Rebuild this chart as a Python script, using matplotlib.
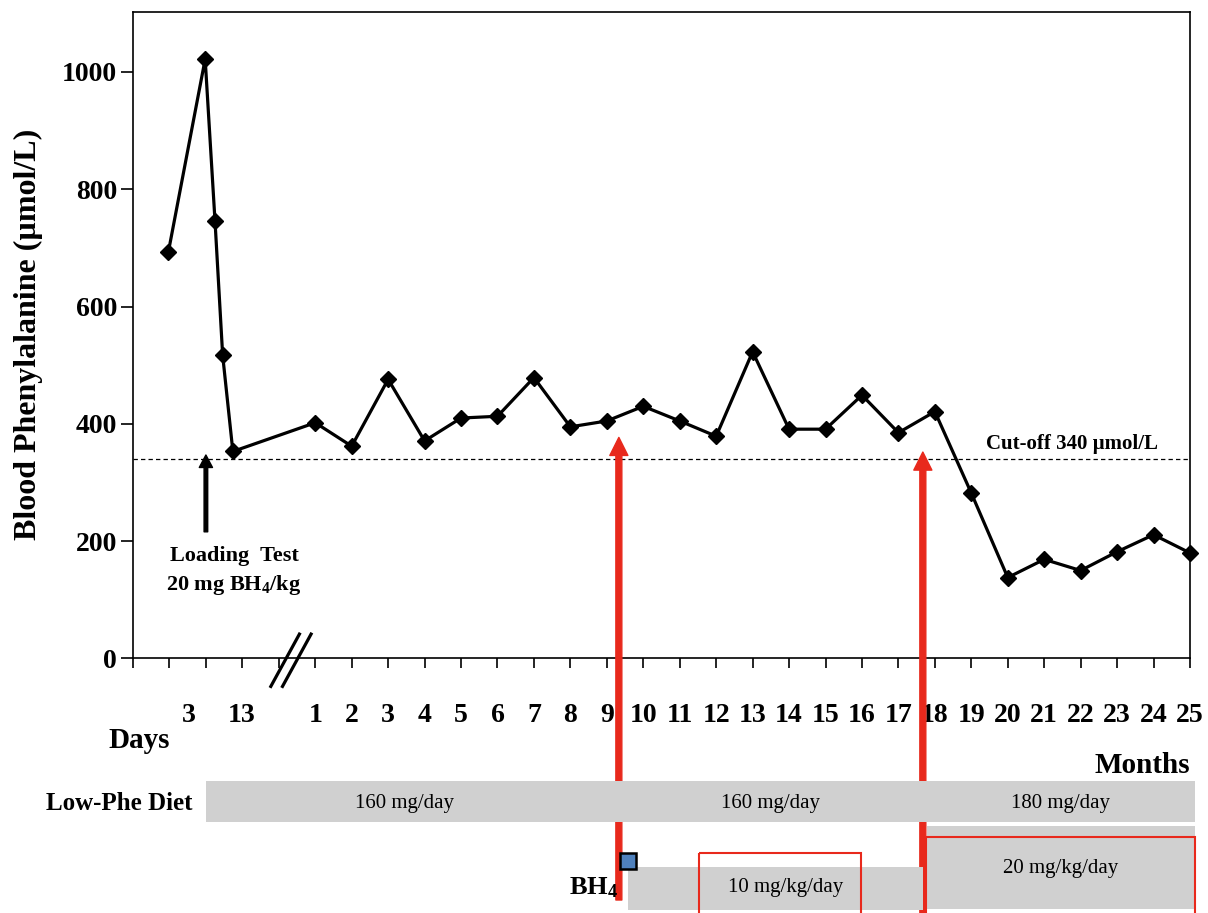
import matplotlib
matplotlib.use("Agg")
import matplotlib.pyplot as plt
from matplotlib.patches import Rectangle
from matplotlib.transforms import blended_transform_factory

plt.rcParams["font.family"] = ["Liberation Serif", "DejaVu Serif"]
plt.rcParams["mathtext.fontset"] = "custom"
plt.rcParams["mathtext.rm"] = "Liberation Serif:bold"
plt.rcParams["mathtext.bf"] = "Liberation Serif:bold"
plt.rcParams["mathtext.it"] = "Liberation Serif:bold"

# ---- data -------------------------------------------------------------
# time axis: positions -4..0 hold the first days, 1..25 are months
day_pos = [-3.03, -2.02, -1.75, -1.54, -1.26]
day_phe = [693, 1022, 746, 517, 353]
day_labels = ["3", "13"]
day_label_pos = [-2.46, -1.03]

months = list(range(1, 26))
month_phe = [402, 362, 476, 371, 410, 413, 479, 395, 405, 430, 405, 379, 523,
             391, 391, 449, 385, 421, 282, 138, 169, 150, 182, 211, 180]

cutoff = 340
loading_test_pos = -2.0

# treatment phases (start, end, label)
diet_phases = [(-2.0, 9.33, "160 mg/day"),
               (9.33, 17.70, "160 mg/day"),
               (17.70, 25.15, "180 mg/day")]
diet_label_pos = [3.44, 13.5, 21.46]
bh4_phases = [(9.57, 17.67, "10 mg/kg/day"),
              (17.78, 25.15, "20 mg/kg/day")]
bh4_label_pos = [13.9, 21.46]
bh4_highlight = [(11.52, 15.97), (17.75, 25.15)]
bh4_start = 9.57
arrow_times = [9.33, 17.67]
arrow_tips = [377, 352]

# ---- styling ----------------------------------------------------------
W, H = 1208, 913
RED = "#e8291c"
GRAY = "#d0d0d0"
BOLD = dict(fontweight="bold")

fig = plt.figure(figsize=(W / 100, H / 100), dpi=100)
x0, x1, ytop, ybot = 133, 1190, 12, 658.5
ax = fig.add_axes([x0 / W, 1 - ybot / H, (x1 - x0) / W, (ybot - ytop) / H])
ax.set_xlim(-4, 25)
ax.set_ylim(0, 1102.3)

for s in ax.spines.values():
    s.set_linewidth(1.2)

# Phe concentration series
xs = day_pos + months
ys = day_phe + month_phe
ax.plot(xs, ys, color="black", lw=2.3, marker="D", ms=8.5,
        mfc="black", mec="black", zorder=5, clip_on=False)

# cut-off line
ax.axhline(cutoff, color="black", lw=0.9, ls=(0, (3.5, 2.5)), zorder=2)
ax.text(19.4, cutoff + 8, "Cut-off 340 \u00b5mol/L", fontsize=15, ha="left",
        va="bottom", **BOLD)

# y axis
ax.set_yticks(range(0, 1001, 200))
ax.tick_params(axis="y", direction="out", length=8.5, width=1.2, pad=3,
               labelsize=20)
for t in ax.get_yticklabels():
    t.set_fontweight("bold")
fig.text(28 / W, 1 - 334 / H, "Blood Phenylalanine (\u00b5mol/L)",
         fontsize=23, rotation=90, ha="center", va="center", **BOLD)

# x axis
ax.set_xticks(range(-4, 26))
ax.set_xticklabels([""] * 5 + [str(m) for m in months])
ax.tick_params(axis="x", direction="out", length=7.2, width=1.2, pad=25,
               labelsize=20)
for t in ax.get_xticklabels():
    t.set_fontweight("bold")
    t.set_va("top")
btr = blended_transform_factory(ax.transData, ax.transAxes)
for lab, p in zip(day_labels, day_label_pos):
    ax.text(p, -0.0688, lab, transform=btr, ha="center", va="top",
            fontsize=20, **BOLD)

# axis break marks
for dx in (0.0, 0.32):
    ax.plot([-0.24 + dx, 0.587 + dx], [-50, 44], color="black", lw=2.3,
            clip_on=False, zorder=6, solid_capstyle="butt")

# loading test arrow and note
ax.annotate("", xy=(loading_test_pos, 347), xytext=(loading_test_pos, 216),
            arrowprops=dict(width=2.6, headwidth=9.5, headlength=9,
                            color="black", shrink=0))
ax.text(loading_test_pos + 0.77, 175, "Loading  Test", fontsize=16,
        ha="center", va="center", **BOLD)
ax.text(loading_test_pos + 0.77, 125, r"20 mg BH$_{4}$/kg", fontsize=16,
        ha="center", va="center", **BOLD)

fig.text(108 / W, 1 - 740 / H, "Days", fontsize=21, ha="left",
         va="center", **BOLD)
fig.text(1190 / W, 1 - 765 / H, "Months", fontsize=21, ha="right",
         va="center", **BOLD)

# ---- treatment timeline below the chart --------------------------------
axb = fig.add_axes([x0 / W, 0, (x1 - x0) / W, 143 / H])
axb.set_xlim(-4, 25)
axb.set_ylim(913, 770)
axb.axis("off")

for (a, b, lab), lp in zip(diet_phases, diet_label_pos):
    axb.barh(801.5, b - a, left=a, height=41, color=GRAY, zorder=1,
             clip_on=False)
    axb.text(lp, 803, lab, fontsize=15, ha="center", va="center", zorder=3)
fig.text(193 / W, 1 - 803 / H, "Low-Phe Diet", fontsize=18, ha="right",
         va="center", **BOLD)

row_geom = [(888.3, 43.3), (867.5, 83)]
for (a, b, lab), lp, (yc, h) in zip(bh4_phases, bh4_label_pos, row_geom):
    axb.barh(yc, b - a, left=a, height=h, color=GRAY, zorder=1,
             clip_on=False)
    axb.text(lp, yc - 0.5 if h < 50 else 868, lab, fontsize=15,
             ha="center", va="center", zorder=3)

for (a, b), ytop_box in zip(bh4_highlight, [852.7, 836.7]):
    axb.add_patch(Rectangle((a, ytop_box), b - a, 80, fill=False,
                            edgecolor=RED, lw=1.5, zorder=2, clip_on=False))

axb.plot(bh4_start, 861, marker="s", ms=11.5, mfc="#4f81bd", mec="black",
         mew=1.8, zorder=6, clip_on=False)
fig.text(618 / W, 1 - 888 / H, r"BH$_{4}$", fontsize=19, ha="right",
         va="center", **BOLD)

# BH4 start / dose increase arrows spanning both panels
for t, tip, base in zip(arrow_times, arrow_tips, [900, 916]):
    ax.annotate("", xy=(t, tip), xycoords="data",
                xytext=(t, base), textcoords=axb.transData,
                arrowprops=dict(width=4.3, headwidth=13, headlength=13,
                                color=RED, shrink=0),
                annotation_clip=False, zorder=7)

fig.savefig("out.png", dpi=100)
